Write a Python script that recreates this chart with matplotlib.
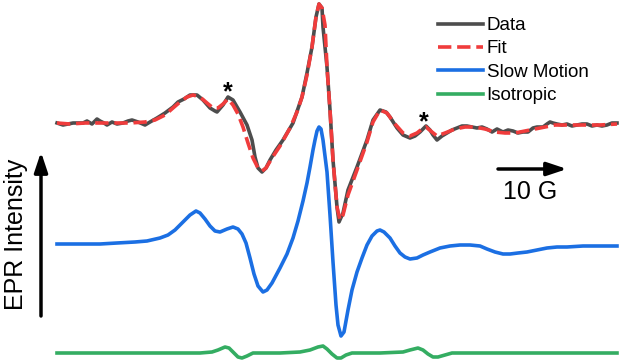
import matplotlib.pyplot as plt
from matplotlib.lines import Line2D

plt.rcParams['font.family'] = ['Liberation Sans', 'DejaVu Sans']

# traces (x = field position, y = signal, screen-down)
data_x = [57, 63, 68, 73, 78, 83, 87, 92, 97, 100, 104, 107, 112, 117, 123, 128, 132, 138, 145, 150,
          157, 165, 173, 178, 184, 190, 197, 203, 210, 215, 217, 223, 228, 233, 240, 247, 252, 255, 258, 262,
          266, 270, 276, 283, 293, 302, 307, 312, 316, 319, 322, 323, 327, 330, 333, 337, 339, 343, 348, 357,
          367, 373, 380, 386, 390, 397, 403, 410, 415, 420, 426, 430, 433, 437, 442, 447, 452, 457, 462, 467,
          472, 477, 482, 487, 492, 497, 503, 508, 513, 518, 523, 528, 533, 537, 543, 547, 550, 553, 557, 562,
          567, 572, 577, 582, 587, 592, 597, 602, 607, 612, 617]
data_y = [123, 125, 124, 123, 123, 123, 121, 124, 119, 121, 123, 125, 122, 124, 123, 121, 120, 122, 125, 122,
          118, 113, 107, 102, 99, 95, 95, 100, 108, 111, 112, 105, 97, 100, 112, 125, 140, 157, 168, 172,
          168, 160, 150, 140, 123, 97, 73, 47, 17, 4, 8, 27, 67, 110, 160, 207, 222, 213, 190, 167,
          140, 120, 110, 112, 117, 128, 135, 138, 136, 132, 126, 130, 135, 140, 136, 133, 130, 128, 126, 126,
          127, 128, 127, 129, 132, 129, 132, 130, 131, 133, 132, 132, 128, 127, 127, 124, 122, 123, 124, 125,
          124, 126, 125, 124, 124, 126, 125, 126, 125, 123, 123]

fit_x = [57, 70, 85, 100, 115, 130, 145, 155, 165, 173, 180, 187, 193, 200, 207, 213, 218, 223, 228, 233,
         238, 243, 248, 253, 258, 262, 266, 272, 280, 290, 297, 302, 307, 312, 316, 319, 322, 325, 327, 330,
         333, 337, 340, 343, 348, 357, 367, 373, 380, 387, 395, 403, 410, 417, 422, 426, 432, 437, 445, 455,
         465, 475, 485, 495, 505, 515, 525, 535, 545, 555, 570, 585, 600, 617]
fit_y = [123, 124, 123, 123, 123, 123, 122, 120, 115, 108, 102, 97, 95, 97, 103, 108, 108, 104, 99, 105,
         114, 127, 143, 158, 168, 171, 168, 158, 146, 128, 112, 97, 75, 47, 17, 4, 8, 25, 67, 110,
         160, 207, 220, 215, 195, 170, 142, 122, 110, 113, 124, 133, 136, 133, 129, 127, 132, 136, 133, 129,
         127, 127, 129, 132, 133, 133, 131, 129, 127, 125, 125, 125, 125, 124]

slow_x = [57, 80, 100, 117, 135, 147, 160, 168, 175, 183, 190, 196, 200, 205, 210, 215, 220, 227, 233, 238,
          242, 246, 250, 254, 258, 263, 267, 272, 280, 287, 293, 298, 303, 307, 310, 313, 315, 317, 319, 321,
          323, 327, 330, 333, 336, 338, 341, 344, 348, 352, 357, 362, 367, 372, 377, 380, 384, 390, 395, 400,
          405, 410, 417, 423, 430, 440, 450, 460, 470, 480, 487, 495, 503, 510, 518, 527, 537, 547, 557, 567,
          583, 600, 617]
slow_y = [244, 244, 244, 243, 242, 241, 238, 235, 230, 222, 215, 211, 213, 219, 226, 231, 232, 229, 227, 229,
          234, 243, 258, 274, 286, 292, 290, 283, 268, 254, 238, 221, 201, 183, 167, 150, 140, 131, 127, 129,
          140, 172, 215, 262, 305, 325, 336, 332, 310, 290, 272, 258, 245, 236, 231, 230, 232, 238, 246, 253,
          257, 259, 258, 255, 252, 248, 246, 245, 245, 246, 249, 252, 254, 254, 253, 252, 250, 248, 247, 247,
          246, 246, 246]

iso_x = [57, 120, 200, 212, 218, 225, 229, 233, 238, 242, 247, 253, 280, 300, 310, 318, 323, 327, 332, 337,
         341, 346, 352, 380, 403, 410, 418, 423, 428, 433, 438, 445, 452, 500, 560, 617]
iso_y = [353, 353, 353, 352, 350, 347, 348, 352, 357, 358, 356, 353, 353, 352, 350, 347, 346, 349, 354, 358,
         358, 355, 353, 353, 352, 350, 348, 350, 354, 357, 357, 355, 353, 353, 353, 353]

star_x = [228, 424]
star_y = [99, 129]

labels = ['Data', 'Fit', 'Slow Motion', 'Isotropic']
colors = ['#4d4d4d', '#f03c3c', '#1b6fe3', '#34ad62']

fig = plt.figure(figsize=(6.21, 3.64), dpi=100)
ax = fig.add_axes([0, 0, 1, 1])
ax.set_xlim(0, 621)
ax.set_ylim(364, 0)
ax.axis('off')

lw = 2.6
ax.plot(data_x, data_y, color=colors[0], lw=lw, solid_joinstyle='round')
ax.plot(fit_x, fit_y, color=colors[1], lw=lw, ls='--')
ax.plot(slow_x, slow_y, color=colors[2], lw=lw, solid_joinstyle='round')
ax.plot(iso_x, iso_y, color=colors[3], lw=lw, solid_joinstyle='round')

for sx, sy in zip(star_x, star_y):
    ax.text(sx, sy, '*', fontsize=18, fontweight='bold', ha='center', va='baseline')

# intensity arrow and scale bar
ax.annotate('', xy=(41, 152), xytext=(41, 316),
            arrowprops=dict(arrowstyle='-|>,head_length=1.2,head_width=0.4', lw=2.5, color='black',
                            shrinkA=0, shrinkB=0))
ax.text(16, 234, 'EPR Intensity', fontsize=18, rotation=90, ha='center', va='center')

ax.annotate('', xy=(567, 169), xytext=(498, 169),
            arrowprops=dict(arrowstyle='-|>,head_length=1.2,head_width=0.4', lw=2.5, color='black',
                            shrinkA=0, shrinkB=0))
ax.text(530, 192, '10 G', fontsize=18, ha='center', va='center')

handles = [Line2D([], [], color=colors[0], lw=lw),
           Line2D([], [], color=colors[1], lw=lw, ls='--'),
           Line2D([], [], color=colors[2], lw=lw),
           Line2D([], [], color=colors[3], lw=lw)]
ax.legend(handles, labels, loc='upper left', bbox_to_anchor=(438 / 621, 1 - 17 / 364),
          frameon=False, fontsize=13.5, handlelength=2.4, handletextpad=0.2,
          labelspacing=0.33, borderpad=0, borderaxespad=0)

fig.savefig('out.png', dpi=100)
